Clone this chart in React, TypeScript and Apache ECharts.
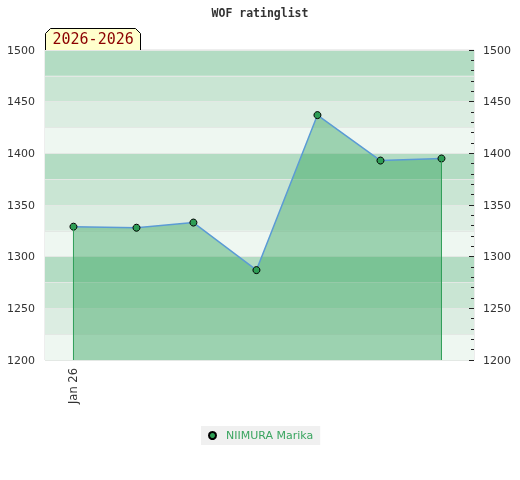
import React, { useEffect, useRef } from "react";
import * as echarts from "echarts";

const dates = ["2026-01-01", "2026-02-01", "2026-03-01", "2026-04-01", "2026-05-01", "2026-06-01", "2026-07-01"];
const ratings = [1329, 1328, 1333, 1287, 1437, 1393, 1395];
const seriesName = "NIIMURA Marika";
const titleText = "WOF ratinglist";
const periodLabel = "2026-2026";
const xLabelDates = ["2026-01-01"];
const xLabelTexts = ["Jan 26"];
const xMin = "2025-12-18";
const xMax = "2026-07-17";
const yMin = 1200;
const yMax = 1500;
const bandColors = ["#eef7f1", "#dcede2", "#c9e5d3", "#b3dcc3"];

const ts = (s: string) => new Date(s + "T00:00:00Z").getTime();

export default function App() {
  const ref = useRef<HTMLDivElement>(null);
  useEffect(() => {
    if (!ref.current) return;
    const chart = echarts.init(ref.current, undefined, { renderer: "svg" });
    const data = dates.map((d, i) => [ts(d), ratings[i]]);
    const first = data[0];
    const last = data[data.length - 1];
    const labelTs = xLabelDates.map(ts);
    const edgeSeries = (pt: number[], id: string) => ({
      id,
      name: id,
      type: "line",
      data: [[pt[0], yMin], [pt[0], pt[1]]],
      symbol: "none",
      silent: true,
      lineStyle: { color: "#2f9e58", width: 1 },
      emphasis: { disabled: true },
      z: 4,
    });
    chart.setOption({
      animation: false,
      title: {
        text: titleText,
        left: "center",
        top: 2,
        textStyle: { fontFamily: "DejaVu Sans Mono", fontWeight: "bold", fontSize: 11.5, color: "#333" },
      },
      grid: {
        left: 45,
        right: 46,
        top: 50,
        bottom: 120,
        show: true,
        borderColor: "#dcdcdc",
        borderWidth: 1,
        backgroundColor: "transparent",
      },
      legend: {
        top: 426,
        left: 201,
        icon: "circle",
        itemWidth: 17,
        itemHeight: 7,
        backgroundColor: "#f0f0f0",
        borderRadius: 0,
        padding: [4, 7, 4, 7],
        textStyle: { color: "#3aa560", fontSize: 11, fontFamily: "DejaVu Sans" },
        data: [seriesName],
      },
      xAxis: {
        type: "value",
        min: ts(xMin),
        max: ts(xMax),
        axisLine: { show: false },
        axisTick: { show: false },
        splitLine: { show: false },
        axisLabel: {
          customValues: labelTs,
          rotate: 90,
          fontSize: 11.5,
          color: "#333",
          fontFamily: "DejaVu Sans",
          margin: 8,
          formatter: (v: number) => {
            const idx = labelTs.indexOf(v);
            return idx >= 0 ? xLabelTexts[idx] : "";
          },
        },
      },
      yAxis: [
        {
          type: "value",
          min: yMin,
          max: yMax,
          interval: 25,
          position: "left",
          axisLine: { show: false },
          axisTick: { show: false },
          axisLabel: {
            fontSize: 11,
            color: "#333",
            fontFamily: "DejaVu Sans",
            margin: 10,
            formatter: (v: number) => (v % 50 === 0 ? String(v) : ""),
          },
          splitArea: { show: true, areaStyle: { color: bandColors } },
          splitLine: { show: true, lineStyle: { color: "#e3e8e4", width: 1 } },
        },
        {
          type: "value",
          min: yMin,
          max: yMax,
          interval: 50,
          position: "right",
          axisLine: { show: false },
          axisTick: { show: true, inside: true, length: 5, lineStyle: { color: "#222" } },
          minorTick: { show: true, splitNumber: 5, length: 3, lineStyle: { color: "#222" } },
          axisLabel: {
            fontSize: 11,
            color: "#333",
            fontFamily: "DejaVu Sans",
            margin: 9,
            formatter: (v: number) => String(v),
          },
          splitLine: { show: false },
          splitArea: { show: false },
        },
      ],
      series: [
        {
          name: seriesName,
          type: "line",
          data,
          yAxisIndex: 0,
          symbol: "circle",
          symbolSize: 7,
          lineStyle: { color: "#5b9bd5", width: 1.5 },
          itemStyle: { color: "#2e9e55", borderColor: "#000", borderWidth: 1 },
          areaStyle: { color: "rgb(43,159,85)", opacity: 0.42, origin: "start" },
          emphasis: { disabled: true },
          z: 3,
        },
        edgeSeries(first, "edge-start"),
        edgeSeries(last, "edge-end"),
      ],
      graphic: [
        {
          type: "group",
          left: 45,
          top: 28,
          children: [
            {
              type: "polygon",
              shape: { points: [[0, 22], [0, 5], [5, 0], [90, 0], [95, 5], [95, 22]] },
              style: { fill: "#ffffcc", stroke: "#000", lineWidth: 1 },
            },
            {
              type: "text",
              x: 7,
              y: 3,
              style: {
                text: periodLabel,
                fill: "#8b0000",
                font: "15px 'DejaVu Sans Mono'",
              },
            },
          ],
        },
      ],
    });
    return () => chart.dispose();
  }, []);
  return <div ref={ref} style={{ position: "fixed", left: 0, top: 0, width: 520, height: 480 }} />;
}
